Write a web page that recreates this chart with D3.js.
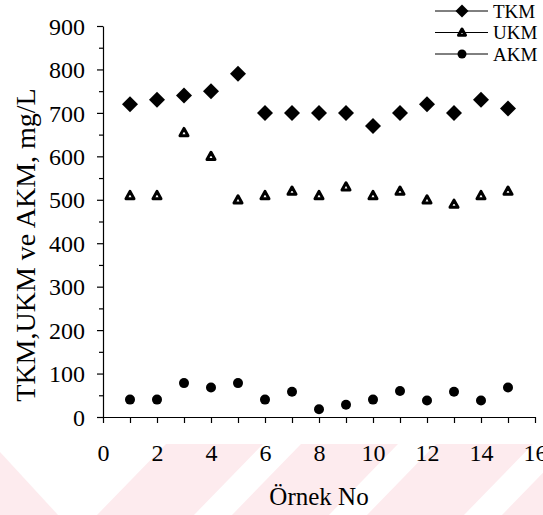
<!DOCTYPE html>
<html>
<head>
<meta charset="utf-8">
<script src="https://cdn.jsdelivr.net/npm/d3@7"></script>
<style>
    body { margin: 0; background: #fff; }
</style>
</head>
<body>
<svg id="chart"></svg>
<script>
// sample numbers 1..15
const samples = [1, 2, 3, 4, 5, 6, 7, 8, 9, 10, 11, 12, 13, 14, 15];
const tkm = [720, 730, 740, 750, 790, 700, 700, 700, 700, 670, 700, 720, 700, 730, 710];
const ukm = [510, 510, 655, 600, 500, 510, 520, 510, 530, 510, 520, 500, 490, 510, 520];
const akm = [40, 40, 78, 68, 78, 40, 58, 18, 28, 40, 60, 38, 58, 38, 68];

const xTicks = [0, 2, 4, 6, 8, 10, 12, 14, 16];
const yTicks = [0, 100, 200, 300, 400, 500, 600, 700, 800, 900];
const seriesNames = ["TKM", "UKM", "AKM"];

const width = 543, height = 515;
const margin = {top: 26, right: 8, bottom: 98, left: 103};
const serif = "Liberation Serif, DejaVu Serif, serif";

const svg = d3.select("#chart").attr("width", width).attr("height", height)
    .attr("font-family", serif);

// faint watermark stripes at the bottom
const wm = svg.append("g").attr("fill", "#fdebee");
wm.append("path").attr("d", "M0,452L58,515L0,515Z");
[0, 1, 2, 3].forEach(k => {
    const o = 135 * k;
    wm.append("path").attr("d", `M${166 + o},444L${263 + o},444L${194 + o},515L${97 + o},515Z`);
});

const x = d3.scaleLinear().domain([0, 16]).range([margin.left, width - margin.right]);
const y = d3.scaleLinear().domain([0, 900]).range([height - margin.bottom, margin.top]);

// y axis
const yAxis = svg.append("g")
    .attr("transform", `translate(${margin.left},0)`)
    .call(d3.axisLeft(y).tickValues(yTicks).tickSize(6).tickPadding(12).tickSizeOuter(0));
yAxis.append("g")
    .call(d3.axisLeft(y).tickValues(d3.range(50, 900, 100)).tickSize(4).tickFormat(""))
    .select(".domain").remove();
yAxis.selectAll("text").attr("dy", "0.34em");

// x axis
const xAxis = svg.append("g")
    .attr("transform", `translate(0,${y(0)})`)
    .call(d3.axisBottom(x).tickValues(d3.range(0, 17)).tickSize(6).tickSizeOuter(0)
        .tickFormat(d => xTicks.includes(d) ? d : ""));
xAxis.selectAll("text").attr("y", 44).attr("dy", null);

svg.selectAll("g").filter(function() { return this.hasAttribute("font-family"); })
    .attr("font-family", serif);
svg.selectAll(".tick text")
    .attr("font-size", 24)
    .attr("fill", "#000");
svg.selectAll(".domain, .tick line").attr("stroke", "#000").attr("stroke-width", 1.2);

// axis titles
svg.append("text")
    .attr("x", (x(0) + x(16)) / 2)
    .attr("y", 505)
    .attr("text-anchor", "middle")
    .attr("font-size", 25)
    .text("Örnek No");

svg.append("text")
    .attr("transform", "translate(35,245) rotate(-90)")
    .attr("text-anchor", "middle")
    .attr("font-size", 28)
    .text("TKM,UKM ve AKM, mg/L");

// marker shapes
const diamond = s => `M0,${-s}L${s},0L0,${s}L${-s},0Z`;
const triangle = s => `M0,${-s}L${s},${s * 0.8}L${-s},${s * 0.8}Z`;

function drawMarker(g, name, big) {
    if (name === "TKM") {
        g.append("path").attr("d", diamond(big ? 8 : 6.5)).attr("fill", "#000");
    } else if (name === "UKM") {
        g.append("path").attr("d", triangle(big ? 4 : 3.5))
            .attr("fill", "#fff").attr("stroke", "#000").attr("stroke-width", 3)
            .attr("stroke-linejoin", "round");
    } else {
        g.append("circle").attr("r", big ? 5 : 4.5).attr("fill", "#000");
    }
}

const seriesData = {TKM: tkm, UKM: ukm, AKM: akm};
seriesNames.forEach(name => {
    svg.append("g").selectAll("g")
        .data(samples.map((s, i) => ({s, v: seriesData[name][i]})))
        .join("g")
        .attr("transform", d => `translate(${x(d.s)},${y(d.v)})`)
        .each(function() { drawMarker(d3.select(this), name, true); });
});

// legend
const legend = svg.append("g").attr("transform", "translate(435,11)");
seriesNames.forEach((name, i) => {
    const row = legend.append("g").attr("transform", `translate(0,${i * 21.5})`);
    row.append("line").attr("x1", 0).attr("x2", 53).attr("stroke", "#000").attr("stroke-width", 1);
    drawMarker(row.append("g").attr("transform", "translate(27,0)"), name, false);
    row.append("text").attr("x", 58).attr("y", 6.5).attr("font-size", 19).text(name);
});
</script>
</body>
</html>
